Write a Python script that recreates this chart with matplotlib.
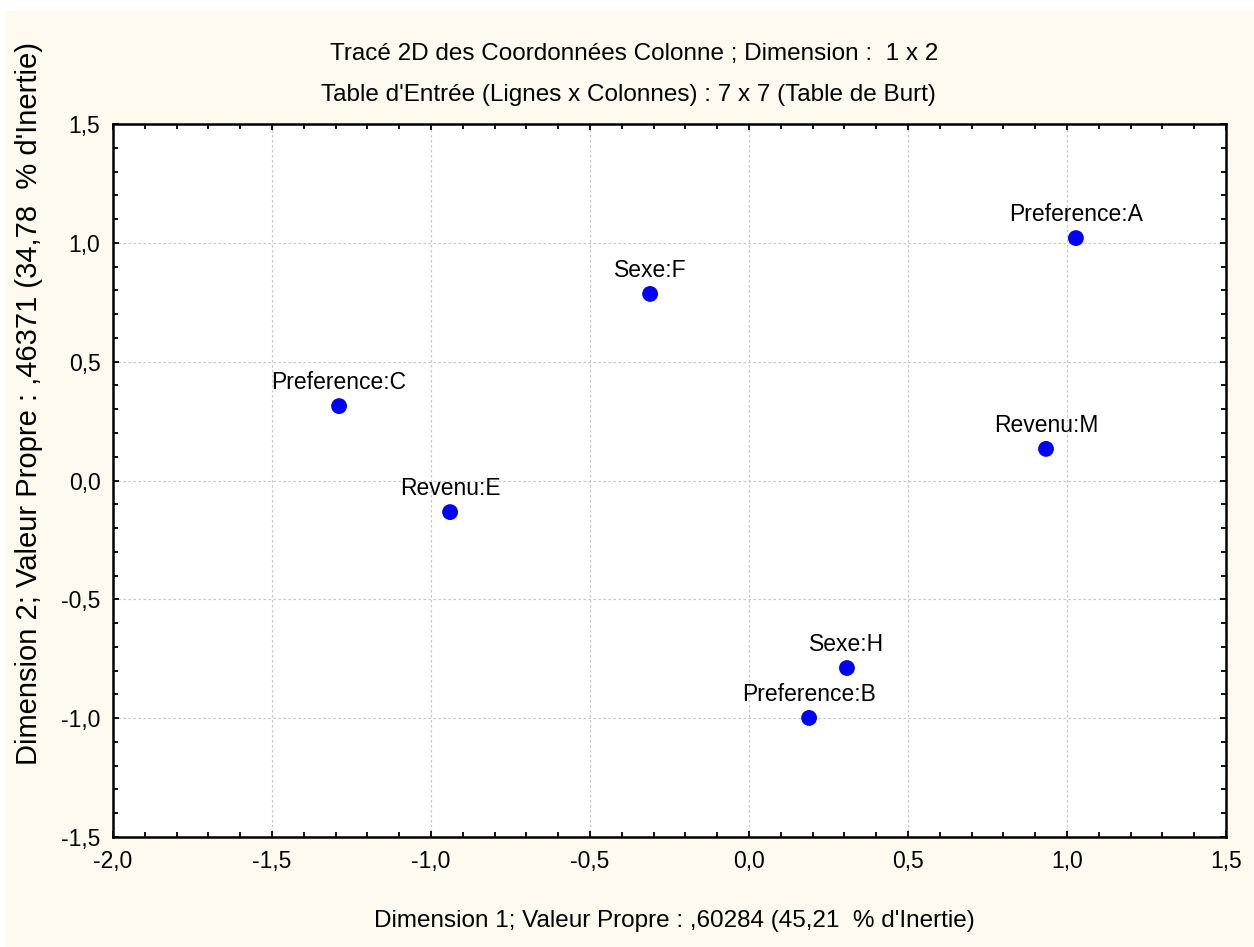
import matplotlib
matplotlib.use("Agg")
import matplotlib.pyplot as plt
from matplotlib.ticker import MultipleLocator, FuncFormatter
from matplotlib.patches import Rectangle

labels = ["Preference:A", "Revenu:M", "Sexe:F", "Preference:C", "Revenu:E", "Sexe:H", "Preference:B"]
dim1 = [1.028, 0.934, -0.311, -1.289, -0.940, 0.308, 0.189]
dim2 = [1.020, 0.133, 0.785, 0.313, -0.133, -0.789, -0.999]

title1 = "Tracé 2D des Coordonnées Colonne ; Dimension :  1 x 2"
title2 = "Table d'Entrée (Lignes x Colonnes) : 7 x 7 (Table de Burt)"
xlabel = "Dimension 1; Valeur Propre : ,60284 (45,21  % d'Inertie)"
ylabel = "Dimension 2; Valeur Propre : ,46371 (34,78  % d'Inertie)"

FONT = ["Liberation Sans Narrow", "Liberation Sans", "DejaVu Sans"]
plt.rcParams["font.family"] = FONT
FS = 16.5
CREAM = "#FFFAF0"

W, H = 1254, 947
fig = plt.figure(figsize=(W / 100, H / 100), dpi=100, facecolor="white")
fig.patches.append(Rectangle((5 / W, 0), 1 - 5 / W, 1 - 11 / H, transform=fig.transFigure,
                             facecolor=CREAM, edgecolor="none", zorder=-10))

ax = fig.add_axes([113 / W, 1 - 837 / H, (1226 - 113) / W, (837 - 124) / H])
ax.set_facecolor("white")
ax.set_xlim(-2.0, 1.5)
ax.set_ylim(-1.5, 1.5)

ax.xaxis.set_major_locator(MultipleLocator(0.5))
ax.yaxis.set_major_locator(MultipleLocator(0.5))
ax.xaxis.set_minor_locator(MultipleLocator(0.1))
ax.yaxis.set_minor_locator(MultipleLocator(0.1))
fmt = FuncFormatter(lambda v, p: ("%.1f" % v).replace(".", ",").replace("-0,0", "0,0"))
ax.xaxis.set_major_formatter(fmt)
ax.yaxis.set_major_formatter(fmt)

ax.tick_params(which="both", direction="in", top=True, right=True, width=1.3, colors="black",
               labelsize=FS)
ax.tick_params(which="major", length=4)
ax.tick_params(which="minor", length=3.5)
ax.tick_params(axis="x", which="major", pad=9)
ax.tick_params(axis="y", which="major", pad=9)
for s in ax.spines.values():
    s.set_linewidth(1.8)
    s.set_color("black")

ax.grid(True, which="major", linestyle=(0, (2, 2)), color="#c8c8c8", linewidth=0.9)
ax.set_axisbelow(True)

ax.scatter(dim1, dim2, s=130, color="#0000FF", edgecolors="none", zorder=3)
for lab, x, y in zip(labels, dim1, dim2):
    ax.annotate(lab, (x, y), xytext=(0, 12.5), textcoords="offset points",
                ha="center", va="baseline", fontsize=FS, color="black", zorder=4)

fig.text(634 / W, 1 - 60 / H, title1, ha="center", va="baseline", fontsize=17.5)
fig.text(628 / W, 1 - 101 / H, title2, ha="center", va="baseline", fontsize=17.5)
fig.text(674 / W, 1 - 927 / H, xlabel, ha="center", va="baseline", fontsize=FS + 1)
fig.text(29 / W, 1 - 765 / H, ylabel, ha="center", va="bottom", rotation=90, fontsize=21)

fig.savefig("out.png", dpi=100, facecolor=fig.get_facecolor())
